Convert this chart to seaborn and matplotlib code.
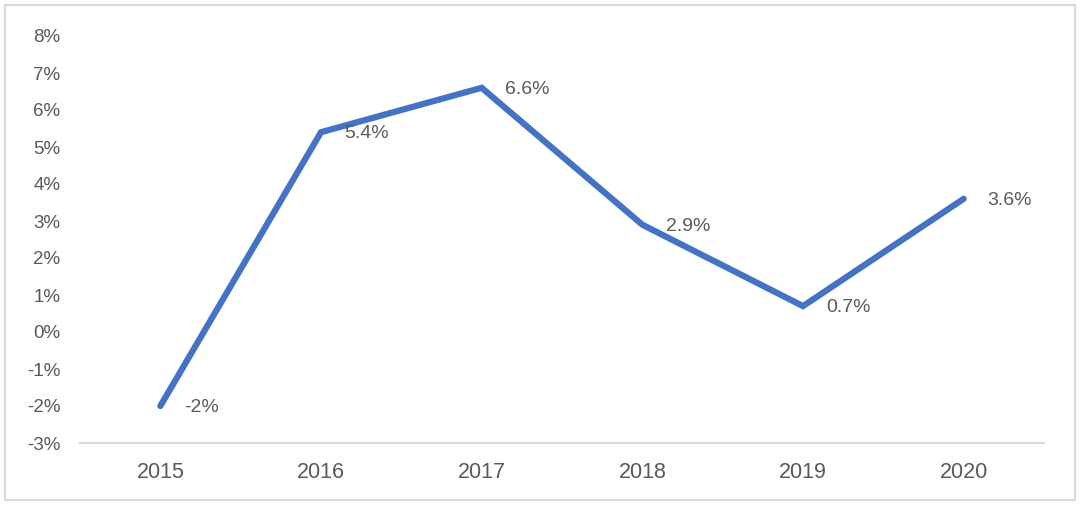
import matplotlib
matplotlib.use("Agg")
import matplotlib.pyplot as plt
import seaborn as sns
import pandas as pd
from matplotlib.patches import Rectangle

years = ["2015", "2016", "2017", "2018", "2019", "2020"]
growth = [-2.0, 5.4, 6.6, 2.9, 0.7, 3.6]
point_labels = ["-2%", "5.4%", "6.6%", "2.9%", "0.7%", "3.6%"]
y_ticks = list(range(-3, 9))
y_tick_labels = [f"{v}%" for v in y_ticks]

sns.set_theme(style="white")
plt.rcParams["font.family"] = ["Liberation Sans", "DejaVu Sans"]

df = pd.DataFrame({"year": years, "growth": growth})

fig = plt.figure(figsize=(10.8, 5.09), dpi=100)
ax = fig.add_axes([80/1080, 66/509, (1044-80)/1080, (443-36)/509])

sns.lineplot(data=df, x="year", y="growth", ax=ax, color="#4472C4",
             linewidth=4.5, sort=False)
for line in ax.get_lines():
    line.set_solid_capstyle("round")
    line.set_solid_joinstyle("miter")

for i, (v, lab) in enumerate(zip(growth, point_labels)):
    ax.annotate(lab, xy=(i, v), xytext=(17, -1), textcoords="offset points",
                ha="left", va="center", fontsize=14, color="#595959")

ax.set_xlim(-0.5, len(years) - 0.5)
ax.set_ylim(-3, 8)
ax.set_yticks(y_ticks)
ax.set_yticklabels(y_tick_labels)
ax.set_xticks(range(len(years)))
ax.set_xticklabels(years)
ax.set_xlabel("")
ax.set_ylabel("")
ax.tick_params(axis="y", length=0, pad=14, labelsize=13.5, labelcolor="#595959")
ax.tick_params(axis="x", length=0, pad=14, labelsize=15.5, labelcolor="#595959")
for s in ["top", "right", "left"]:
    ax.spines[s].set_visible(False)
ax.spines["bottom"].set_color("#D9D9D9")
ax.spines["bottom"].set_linewidth(1.5)
ax.grid(False)

fig.patches.append(Rectangle((5/1080, 9/509), 1070/1080, 495/509,
                             transform=fig.transFigure, fill=False,
                             edgecolor="#D9D9D9", linewidth=1.5))

fig.savefig("out.png", dpi=100)
